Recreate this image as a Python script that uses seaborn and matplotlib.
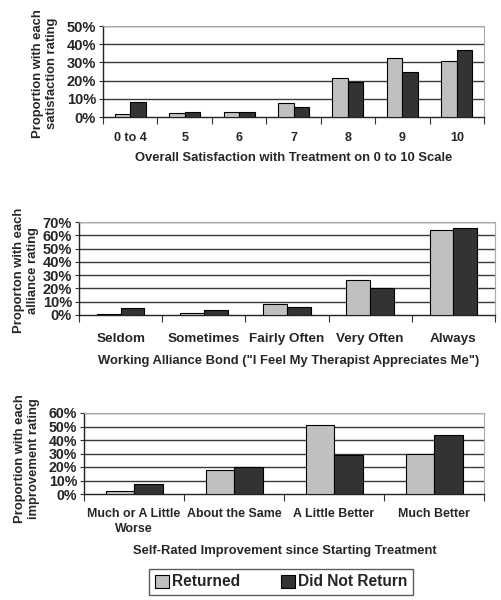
import numpy as np
import pandas as pd
import matplotlib
matplotlib.use("Agg")
import matplotlib.pyplot as plt
from matplotlib.patches import Patch
import seaborn as sns

# data (proportions in %)
groups = ["Returned", "Did Not Return"]
colors = {"Returned": "#c0c0c0", "Did Not Return": "#333333"}

sat_cats = ["0 to 4", "5", "6", "7", "8", "9", "10"]
sat_returned = [1.5, 2.3, 3.0, 7.8, 21.5, 32.5, 31.0]
sat_not_returned = [8.5, 3.0, 2.7, 5.5, 19.0, 25.0, 36.8]

all_cats = ["Seldom", "Sometimes", "Fairly Often", "Very Often", "Always"]
all_returned = [0.5, 1.8, 8.2, 26.3, 64.0]
all_not_returned = [5.5, 3.5, 6.2, 20.0, 65.5]

imp_cats = ["Much or A Little\nWorse", "About the Same", "A Little Better", "Much Better"]
imp_returned = [2.2, 17.5, 51.0, 29.5]
imp_not_returned = [7.5, 20.0, 29.0, 44.0]


def long_df(cats, ret, nret):
    rows = []
    for c, a, b in zip(cats, ret, nret):
        rows.append({"cat": c, "group": "Returned", "val": a})
        rows.append({"cat": c, "group": "Did Not Return", "val": b})
    return pd.DataFrame(rows)


sns.set_theme(style="white")
plt.rcParams["font.family"] = ["Liberation Sans", "DejaVu Sans"]
plt.rcParams["font.weight"] = "bold"

fig = plt.figure(figsize=(5.01, 6.0), dpi=100)


def panel(rect, cats, ret, nret, ymax, ystep, ylabel, xlabel, ylab_xy, xlab_xy,
          tick_fs, ytick_fs, lab_fs, xpad):
    ax = fig.add_axes(rect)
    df = long_df(cats, ret, nret)
    sns.barplot(data=df, x="cat", y="val", hue="group", hue_order=groups,
                palette=colors, width=0.57, edgecolor="black", linewidth=0.8,
                legend=False, ax=ax, zorder=3)
    yt = np.arange(0, ymax + 1, ystep)
    ax.set_ylim(0, ymax)
    ax.set_xlim(-0.5, len(cats) - 0.5)
    ax.set_yticks(yt)
    ax.set_yticklabels([f"{int(v)}%" for v in yt], fontsize=ytick_fs, fontweight="bold")
    for v in yt[1:]:
        ax.axhline(v, color="#3a3a3a", lw=1.0, zorder=1)
    ax.set_xticks(range(len(cats)))
    ax.set_xticklabels(cats, fontsize=tick_fs, fontweight="bold", linespacing=1.3)
    ax.set_xticks(np.arange(-0.5, len(cats)), minor=True)
    ax.tick_params(axis="x", which="major", length=0, pad=xpad)
    ax.tick_params(axis="x", which="minor", length=5, width=0.8, color="#333333",
                   direction="out", bottom=True)
    ax.tick_params(axis="y", length=3, width=0.8, color="#333333", direction="out",
                   left=True, pad=2)
    for s in ["left", "bottom"]:
        ax.spines[s].set_color("#222222")
        ax.spines[s].set_linewidth(1.0)
    for s in ["top", "right"]:
        ax.spines[s].set_color("#aaaaaa")
        ax.spines[s].set_linewidth(0.8)
    ax.set_ylabel(ylabel, fontsize=lab_fs, fontweight="bold", linespacing=1.25)
    ax.yaxis.set_label_coords(*ylab_xy)
    ax.yaxis.label.set_ha("center")
    ax.yaxis.label.set_va("center")
    ax.set_xlabel(xlabel, fontsize=lab_fs, fontweight="bold")
    ax.xaxis.set_label_coords(*xlab_xy)
    ax.xaxis.label.set_va("center")
    return ax


W, H = 501.0, 600.0


def rect(l, r, t, b):
    return [l / W, 1 - b / H, (r - l) / W, (b - t) / H]


panel(rect(103, 484, 26, 117), sat_cats, sat_returned, sat_not_returned, 50, 10,
      "Proportion with each\nsatisfaction rating",
      "Overall Satisfaction with Treatment on 0 to 10 Scale",
      (-0.152, 0.48), (0.5, -0.45), 9.0, 10.5, 9.4, 11)

panel(rect(79, 495, 222, 315), all_cats, all_returned, all_not_returned, 70, 10,
      "Proporton with each\nalliance rating",
      "Working Alliance Bond (\"I Feel My Therapist Appreciates Me\")",
      (-0.128, 0.48), (0.505, -0.49), 9.7, 10.5, 9.4, 13)

panel(rect(84, 484, 413, 494), imp_cats, imp_returned, imp_not_returned, 60, 10,
      "Proportion with each\nimprovement rating",
      "Self-Rated Improvement since Starting Treatment",
      (-0.142, 0.44), (0.503, -0.70), 8.9, 10.2, 9.4, 10)

handles = [Patch(facecolor=colors[g], edgecolor="black", linewidth=0.8, label=g)
           for g in groups]
leg = fig.legend(handles=handles, loc="center", bbox_to_anchor=(281 / W, 1 - 582 / H),
                 ncol=2, frameon=True, fancybox=False, edgecolor="#333333",
                 prop={"family": "Liberation Sans", "weight": "bold", "size": 11.2},
                 handlelength=0.9, handleheight=0.9, handletextpad=0.2,
                 columnspacing=2.6, borderpad=0.35)
leg.get_frame().set_linewidth(1.0)

fig.savefig("out.png", dpi=100)
